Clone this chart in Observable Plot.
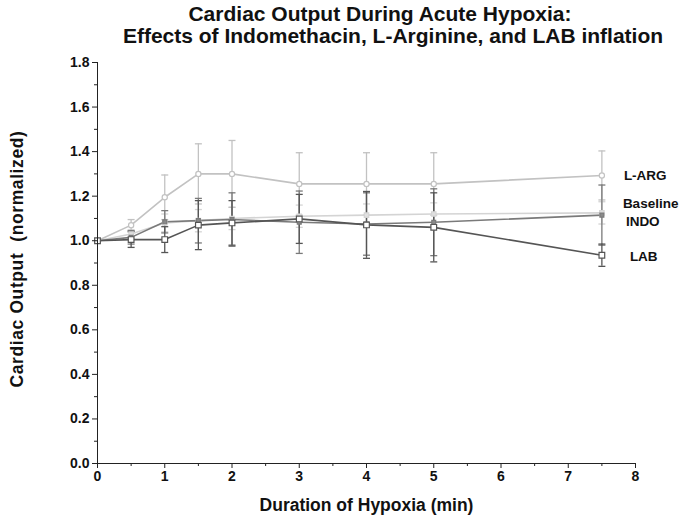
<!DOCTYPE html>
<html>
<head>
<meta charset="utf-8">
<script src="https://cdn.jsdelivr.net/npm/d3@7"></script>
<script src="https://cdn.jsdelivr.net/npm/@observablehq/plot@0.6"></script>
<style>
  body { margin: 0; background: #fff; }
  #wrap { position: relative; width: 685px; }
  #title { height: 55px; font-family: "Liberation Sans", Arial, sans-serif; font-weight: bold; font-size: 21px; color: #111; line-height: 22px; position: relative; }
  #title div { position: absolute; white-space: nowrap; transform: translateX(-50%); }
  svg text { white-space: pre; }
  .ylab text { letter-spacing: 0.6px; }
</style>
</head>
<body>
<div id="wrap">
  <div id="title">
    <div style="left:380px; top:3px;">Cardiac Output During Acute Hypoxia:</div>
    <div style="left:393px; top:25px;">Effects of Indomethacin, L-Arginine, and LAB inflation</div>
  </div>
  <div id="chart"></div>
</div>
<script>
// ---- data ----
const times = [0, 0.5, 1, 1.5, 2, 3, 4, 5, 7.5];
const largMean = [1.0, 1.07, 1.195, 1.30, 1.30, 1.255, 1.255, 1.255, 1.293];
const largSE   = [0, 0.025, 0.10, 0.135, 0.15, 0.14, 0.14, 0.14, 0.11];
const baseMean = [1.0, 1.03, 1.08, 1.09, 1.10, 1.11, 1.115, 1.12, 1.125];
const baseSE   = [0, 0.02, 0.04, 0.05, 0.05, 0.05, 0.05, 0.05, 0.05];
const indoMean = [1.0, 1.015, 1.085, 1.09, 1.095, 1.083, 1.075, 1.083, 1.115];
const indoSE   = [0, 0.03, 0.05, 0.10, 0.12, 0.14, 0.14, 0.15, 0.135];
const labMean  = [1.0, 1.005, 1.005, 1.07, 1.08, 1.098, 1.071, 1.06, 0.935];
const labSE    = [0, 0.035, 0.058, 0.11, 0.10, 0.11, 0.15, 0.155, 0.05];
const seriesNames = ["L-ARG", "Baseline", "INDO", "LAB"];
const yTicks = [0, 0.2, 0.4, 0.6, 0.8, 1.0, 1.2, 1.4, 1.6, 1.8];
const yMinor = [0.1, 0.3, 0.5, 0.7, 0.9, 1.1, 1.3, 1.5, 1.7];
const xTicks = [0, 1, 2, 3, 4, 5, 6, 7, 8];
const xMinor = [0.5, 1.5, 2.5, 3.5, 4.5, 5.5, 6.5, 7.5];
const titleY = "Cardiac Output  (normalized)";
const titleX = "Duration of Hypoxia (min)";

// ---- build tables ----
function table(name, means, ses) {
  return times.map((t, i) => ({series: name, t, m: means[i], lo: means[i] - ses[i], hi: means[i] + ses[i]}));
}
const larg = table("L-ARG", largMean, largSE);
const base = table("Baseline", baseMean, baseSE);
const indo = table("INDO", indoMean, indoSE);
const lab = table("LAB", labMean, labSE);

const cap = { draw(ctx, size) { const w = Math.sqrt(size / Math.PI); ctx.moveTo(-w, 0); ctx.lineTo(w, 0); } };

const styles = [
  {data: base, color: "#d4d4d4", sym: "square", r: 2.5, fill: "#e0e0e0"},
  {data: larg, color: "#c2c2c2", sym: "circle", r: 2.6, fill: "white"},
  {data: indo, color: "#7a7a7a", sym: "square", r: 2.2, fill: "#8a8a8a"},
  {data: lab, color: "#555555", sym: "square", r: 3.2, fill: "white"}
];

const marks = [];
for (const s of styles) {
  const eb = s.data.filter(d => d.hi > d.lo);
  marks.push(Plot.ruleX(eb, {x: "t", y1: "lo", y2: "hi", stroke: s.color, strokeWidth: 1.3}));
  marks.push(Plot.dot(eb, {x: "t", y: "hi", symbol: cap, r: 3.5, stroke: s.color, strokeWidth: 1.3}));
  marks.push(Plot.dot(eb, {x: "t", y: "lo", symbol: cap, r: 3.5, stroke: s.color, strokeWidth: 1.3}));
}
for (const s of styles) {
  marks.push(Plot.line(s.data, {x: "t", y: "m", stroke: s.color, strokeWidth: 1.6}));
}
for (const s of styles) {
  marks.push(Plot.dot(s.data, {x: "t", y: "m", symbol: s.sym, r: s.r, stroke: s.color, fill: s.fill, strokeWidth: 1.2}));
}

const lastOf = arr => [arr[arr.length - 1]];
const labelFont = {fontSize: 13.5, fontWeight: "bold", fill: "#111", textAnchor: "start"};
marks.push(Plot.text(lastOf(larg), {x: "t", y: "m", text: () => seriesNames[0], dx: 22, dy: 0, ...labelFont}));
marks.push(Plot.text(lastOf(base), {x: "t", y: "m", text: () => seriesNames[1], dx: 21, dy: -9, ...labelFont}));
marks.push(Plot.text(lastOf(indo), {x: "t", y: "m", text: () => seriesNames[2], dx: 24, dy: 7, ...labelFont}));
marks.push(Plot.text(lastOf(lab), {x: "t", y: "m", text: () => seriesNames[3], dx: 28, dy: 1, ...labelFont}));

// axes
marks.push(Plot.axisY(yTicks, {tickSize: 5, tickFormat: d3.format(".1f"), fontSize: 14, fontWeight: "bold", fill: "#111", stroke: "#222", tickPadding: 3, label: null}));
marks.push(Plot.axisY(yMinor, {tickSize: 3, text: null, stroke: "#222", label: null}));
marks.push(Plot.axisX(xTicks, {tickSize: 5, fontSize: 14, fontWeight: "bold", fill: "#111", stroke: "#222", tickPadding: 3, label: null}));
marks.push(Plot.axisX(xMinor, {tickSize: 3, text: null, stroke: "#222", label: null}));
marks.push(Plot.ruleX([0], {stroke: "#222", strokeWidth: 1}));
marks.push(Plot.ruleY([0], {stroke: "#222", strokeWidth: 1}));
marks.push(Plot.text([titleY], {frameAnchor: "left", textAnchor: "middle", dx: -80, dy: -4, rotate: -90, fontSize: 17.5, fontWeight: "bold", fill: "#111", className: "ylab"}));
marks.push(Plot.text([titleX], {frameAnchor: "bottom", textAnchor: "middle", dy: 47, fontSize: 17.5, fontWeight: "bold", fill: "#111"}));

const plot = Plot.plot({
  width: 685,
  height: 470,
  marginTop: 7,
  marginBottom: 62,
  marginLeft: 97,
  marginRight: 50,
  style: {fontFamily: "'Liberation Sans', Arial, sans-serif", background: "white"},
  x: {domain: [0, 8]},
  y: {domain: [0, 1.8]},
  marks
});
document.getElementById("chart").appendChild(plot);
</script>
</body>
</html>
